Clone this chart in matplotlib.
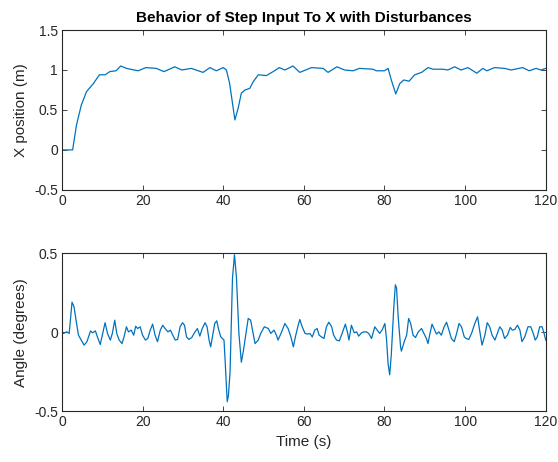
import matplotlib
matplotlib.use("Agg")
import matplotlib.pyplot as plt
from matplotlib.ticker import FuncFormatter

# Position response
t_pos = [0, 2.65, 3.6, 4.8, 6.1, 7.8, 9.3, 10.7, 11.9, 13.4, 14.6, 16.0, 18.9, 20.8,
         23.4, 25.3, 28.0, 29.7, 32.1, 35.0, 36.7, 38.3, 40.0, 40.8, 41.6, 42.9,
         43.7, 44.5, 45.4, 46.6, 47.4, 48.7, 50.7, 52.4, 53.9, 55.3, 57.3, 59.0,
         61.9, 64.8, 66.0, 68.2, 70.1, 72.2, 73.8, 77.1, 78.0, 80.0, 80.9, 81.7,
         82.8, 83.8, 84.8, 86.1, 87.5, 89.2, 90.8, 92.0, 94.5, 95.7, 97.4, 99.0,
         100.7, 102.9, 104.4, 105.4, 107.3, 109.8, 111.4, 114.3, 115.9, 117.6,
         118.8, 120.0]
x_pos = [0, 0, 0.31, 0.56, 0.73, 0.83, 0.94, 0.94, 0.98, 0.99, 1.05, 1.02, 0.99, 1.03,
         1.02, 0.98, 1.04, 1.0, 1.02, 0.97, 1.03, 0.99, 1.03, 1.0, 0.83, 0.375,
         0.52, 0.71, 0.75, 0.77, 0.85, 0.94, 0.93, 0.98, 1.03, 1.0, 1.05, 0.97,
         1.03, 1.02, 0.97, 1.04, 1.0, 0.99, 1.02, 1.01, 0.99, 0.99, 1.02, 0.875,
         0.70, 0.83, 0.875, 0.86, 0.94, 0.97, 1.03, 1.01, 1.01, 1.0, 1.04, 1.0,
         1.03, 0.96, 1.02, 0.99, 1.03, 1.02, 1.0, 1.03, 0.99, 1.02,
         1.0, 1.02]

# Angle response
t_ang = [0.0, 0.4, 1.2, 1.8, 2.5, 3.0, 3.5, 4.1, 4.8, 5.5, 6.2, 6.6, 7.1, 7.6, 8.3,
         8.8, 9.5, 10.1, 10.7, 11.3, 12.0, 12.5, 13.1, 13.6, 14.2, 14.9, 15.4,
         16.0, 16.5, 17.2, 17.8, 18.3, 18.8, 19.4, 20.0, 20.7, 21.3, 21.9, 22.5,
         23.1, 23.7, 24.4, 25.0, 25.6, 26.3, 26.9, 27.5, 28.1, 28.7, 29.3, 29.9,
         30.4, 30.9, 31.5, 32.2, 33.0, 33.6, 34.2, 34.8, 35.5, 36.0, 36.5, 36.9,
         37.4, 37.9, 38.4, 38.9, 39.4, 39.8, 40.2, 40.5, 41.0, 41.3, 41.7, 42.3,
         42.8, 43.3, 43.9, 44.5, 45.0, 45.4, 46.2, 46.8, 47.9, 48.7, 49.3, 50.2,
         51.2, 51.8, 52.6, 53.2, 53.6, 54.5, 55.3, 56.1, 56.8, 57.4, 57.9, 58.6,
         59.0, 59.6, 60.3, 60.9, 61.5, 62.1, 62.7, 63.3, 63.8, 64.4, 65.0, 65.6,
         66.2, 66.9, 67.4, 68.1, 68.8, 69.5, 70.3, 70.8, 71.2, 71.8, 72.5, 73.1,
         73.6, 74.3, 74.9, 75.5, 76.1, 76.8, 77.6, 78.2, 78.8, 79.4, 80.1, 80.5,
         80.9, 81.3, 81.7, 82.3, 82.7, 83.0, 83.4, 84.0, 84.2, 84.9, 85.5, 86.0,
         86.5, 87.1, 87.7, 88.4, 89.2, 89.8, 90.4, 90.8, 91.2, 91.8, 92.3, 92.9,
         93.5, 94.1, 94.8, 95.4, 96.0, 96.6, 97.3, 97.9, 98.5, 99.1, 99.8, 100.3,
         100.9, 101.6, 102.4, 103.1, 103.6, 104.2, 104.9, 105.5, 106.1, 106.7,
         107.4, 108.0, 108.6, 109.2, 109.8, 110.5, 111.2, 111.7, 112.3, 113.0,
         113.6, 114.1, 114.8, 115.6, 116.3, 116.9, 117.4, 117.9, 118.5, 119.1,
         119.6, 120.0]
a_ang = [0.0, -0.008, 0.002, -0.008, 0.19, 0.16, 0.076, -0.019, -0.05, -0.082, -0.06,
         -0.03, 0.008, -0.004, 0.008, -0.03, -0.078, -0.008, 0.06, -0.008, -0.05,
         -0.008, 0.076, -0.008, -0.05, -0.072, -0.03, 0.034, 0.002, 0.013, -0.019,
         0.038, 0.023, 0.034, -0.019, -0.05, -0.04, 0.013, 0.051, -0.019, -0.06,
         0.013, 0.044, 0.023, 0.002, 0.013, -0.019, -0.05, -0.046, 0.034, 0.06,
         0.044, -0.03, -0.046, -0.034, 0.002, 0.023, -0.025, 0.023, 0.06, 0.034,
         -0.05, -0.093, -0.019, 0.055, 0.072, 0.013, -0.03, -0.04, -0.05, -0.19,
         -0.44, -0.40, -0.25, 0.34, 0.49, 0.34, -0.01, -0.19, -0.12, -0.05, 0.087,
         0.076, -0.072, -0.05, -0.008, 0.034, 0.023, -0.008, 0.013, -0.019, -0.05,
         0.002, 0.055, 0.023, -0.03, -0.093, -0.03, 0.044, 0.08, 0.034, -0.008,
         -0.012, -0.008, -0.03, 0.013, 0.023, -0.019, -0.03, -0.04, 0.034, 0.063,
         0.034, -0.019, -0.05, -0.055, -0.008, 0.051, 0.002, -0.05, 0.044, -0.004,
         0.002, -0.025, -0.004, 0.002, 0.002, -0.008, -0.04, 0.034, 0.013, -0.008,
         0.013, 0.055, -0.04, -0.20, -0.27, -0.14, 0.15, 0.30, 0.28, 0.097, -0.093,
         -0.12, -0.06, -0.019, 0.087, 0.055, -0.019, -0.034, 0.002, 0.023, -0.008,
         -0.04, -0.072, -0.019, 0.051, 0.023, -0.012, 0.002, -0.019, 0.034, 0.063,
         0.013, -0.04, -0.06, -0.008, 0.055, 0.034, -0.03, -0.04, -0.046, -0.008,
         0.055, 0.097, 0.013, -0.082, -0.019, 0.06, 0.034, -0.019, -0.05, -0.008,
         0.034, 0.013, -0.04, -0.019, 0.03, 0.013, 0.017, 0.044, 0.013, -0.06,
         -0.03, 0.034, 0.034, -0.008, -0.05, -0.03, 0.034, 0.034, -0.008, -0.05]

title = "Behavior of Step Input To X with Disturbances"
xticks = [0, 20, 40, 60, 80, 100, 120]

plt.rcParams['font.family'] = ['Liberation Sans', 'DejaVu Sans']
line_color = '#0072BD'
text_color = '#262626'
axis_color = '#262626'

fig = plt.figure(figsize=(5.58, 4.62), dpi=100)
ax1 = fig.add_axes([0.111, 0.589, 0.867, 0.346])
ax2 = fig.add_axes([0.111, 0.110, 0.867, 0.342])

fmt = FuncFormatter(lambda v, p: ('%g' % v))

def style(ax):
    for s in ax.spines.values():
        s.set_color(axis_color)
        s.set_linewidth(0.8)
    ax.tick_params(direction='in', top=True, right=True, length=3.5, width=0.6,
                   colors=axis_color, labelsize=10, labelcolor=text_color, pad=3)
    ax.set_xlim(0, 120)
    ax.set_xticks(xticks)
    ax.yaxis.set_major_formatter(fmt)

ax1.plot(t_pos, x_pos, color=line_color, lw=0.9)
ax1.set_ylim(-0.5, 1.5)
ax1.set_yticks([-0.5, 0, 0.5, 1, 1.5])
style(ax1)
ax1.set_ylabel('X position (m)', fontsize=11, color=text_color)
ax1.set_title(title, fontsize=11, fontweight='bold', color='black', pad=6)

ax2.plot(t_ang, a_ang, color=line_color, lw=0.9)
ax2.set_ylim(-0.5, 0.5)
ax2.set_yticks([-0.5, 0, 0.5])
style(ax2)
ax2.set_ylabel('Angle (degrees)', fontsize=11, color=text_color)
ax2.set_xlabel('Time (s)', fontsize=11, color=text_color)

fig.savefig('out.png', dpi=100)
